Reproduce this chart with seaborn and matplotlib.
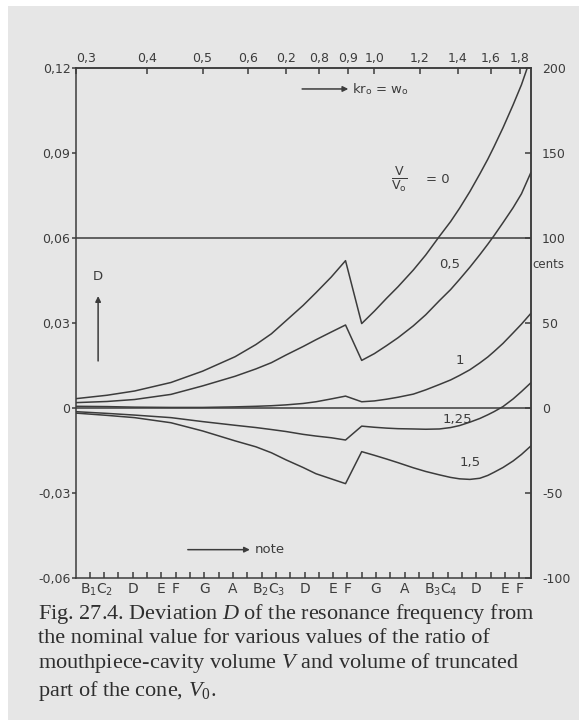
import numpy as np
import pandas as pd
import seaborn as sns
import matplotlib.pyplot as plt
from matplotlib.patches import Rectangle
from matplotlib.ticker import FixedLocator, NullFormatter, NullLocator

# values (kr0 on the top axis, D on the left axis)
kr = [0.30, 0.34, 0.38, 0.44, 0.50, 0.57, 0.62, 0.66, 0.70, 0.75, 0.79, 0.84, 0.89,
      0.95, 1.00, 1.05, 1.10, 1.17, 1.23, 1.30, 1.36, 1.41, 1.47, 1.53, 1.58, 1.62,
      1.68, 1.75, 1.81, 1.88]
d_0 = [0.0033, 0.0045, 0.0060, 0.0090, 0.0130, 0.0181, 0.0224, 0.0262, 0.0308, 0.0362,
       0.0407, 0.0462, 0.0520, 0.0298, 0.0342, 0.0387, 0.0428, 0.0487, 0.0540, 0.0606,
       0.0658, 0.0705, 0.0764, 0.0826, 0.0878, 0.0922, 0.0989, 0.1070, 0.1141, 0.1237]
d_05 = [0.0019, 0.0023, 0.0030, 0.0048, 0.0078, 0.0112, 0.0138, 0.0160, 0.0187, 0.0217,
        0.0241, 0.0268, 0.0293, 0.0168, 0.0192, 0.0220, 0.0248, 0.0290, 0.0329, 0.0379,
        0.0418, 0.0454, 0.0497, 0.0541, 0.0578, 0.0608, 0.0654, 0.0707, 0.0756, 0.0831]
d_1 = [0.0006, 0.0005, 0.0003, 0.0002, 0.0002, 0.0004, 0.0006, 0.0008, 0.0011, 0.0016,
       0.0022, 0.0032, 0.0042, 0.0022, 0.0025, 0.0031, 0.0038, 0.0049, 0.0064, 0.0083,
       0.0099, 0.0115, 0.0135, 0.0159, 0.0180, 0.0199, 0.0228, 0.0265, 0.0296, 0.0334]
d_125 = [-0.0013, -0.0019, -0.0025, -0.0034, -0.0048, -0.0061, -0.0069, -0.0076, -0.0083, -0.0093,
         -0.0099, -0.0105, -0.0113, -0.0064, -0.0068, -0.0071, -0.0073, -0.0074, -0.0075, -0.0074,
         -0.0069, -0.0062, -0.0050, -0.0037, -0.0024, -0.0013, 0.0005, 0.0032, 0.0058, 0.0089]
d_15 = [-0.0018, -0.0026, -0.0034, -0.0052, -0.0081, -0.0116, -0.0137, -0.0158, -0.0183, -0.0210,
        -0.0232, -0.0250, -0.0267, -0.0154, -0.0167, -0.0180, -0.0193, -0.0211, -0.0224, -0.0236,
        -0.0245, -0.0250, -0.0252, -0.0248, -0.0238, -0.0227, -0.0210, -0.0187, -0.0164, -0.0134]
ratios = ["0", "0,5", "1", "1,25", "1,5"]

# top axis
top_ticks = [0.3, 0.4, 0.5, 0.6, 0.7, 0.8, 0.9, 1.0, 1.2, 1.4, 1.6, 1.8]
top_labels = ["0,3", "0,4", "0,5", "0,6", "0,2", "0,8", "0,9", "1,0", "1,2", "1,4", "1,6", "1,8"]

# bottom axis: notes, in semitones from C2 (B/C pairs share one label)
kr_c2 = 0.336
note_steps = [-0.5, 2, 4, 5, 7, 9, 11.5, 14, 16, 17, 19, 21, 23.5, 26, 28, 29]
note_labels = [r"B$_\mathsf{1}$C$_\mathsf{2}$", "D", "E", "F", "G", "A",
               r"B$_\mathsf{2}$C$_\mathsf{3}$", "D", "E", "F", "G", "A",
               r"B$_\mathsf{3}$C$_\mathsf{4}$", "D", "E", "F"]

left_ticks = [-0.06, -0.03, 0, 0.03, 0.06, 0.09, 0.12]
left_labels = ["-0,06", "-0,03", "0", "0,03", "0,06", "0,09", "0,12"]
cents_ticks = [-100, -50, 0, 50, 100, 150, 200]

sns.set_theme(style="ticks")
plt.rcParams["font.family"] = ["DejaVu Sans"]
plt.rcParams["mathtext.fontset"] = "custom"
plt.rcParams["mathtext.rm"] = "Liberation Serif"
plt.rcParams["mathtext.it"] = "Liberation Serif:italic"
plt.rcParams["mathtext.sf"] = "DejaVu Sans"

ink = "#3c3c3c"
paper = "#e6e6e6"
lw = 1.1

df = pd.DataFrame({
    "kr": kr * len(ratios),
    "D": d_0 + d_05 + d_1 + d_125 + d_15,
    "ratio": np.repeat(ratios, len(kr)),
})

fig = plt.figure(figsize=(5.79, 7.2), dpi=100, facecolor="white")
fig.add_artist(Rectangle((8 / 579, 0), 1, 1 - 6 / 720, transform=fig.transFigure,
                         facecolor=paper, edgecolor="none", zorder=-10))
ax = fig.add_axes([76 / 579, 1 - 578 / 720, 455 / 579, 510 / 720])
ax.set_facecolor(paper)

sns.lineplot(data=df, x="kr", y="D", units="ratio", estimator=None, sort=False,
             color=ink, lw=lw, legend=False, ax=ax)
ax.axhline(0.06, color=ink, lw=lw)
ax.axhline(0, color=ink, lw=lw)

ax.set_xscale("log")
ax.set_xlim(0.3, 1.881)
ax.set_ylim(-0.06, 0.12)
ax.set_xlabel("")
ax.set_ylabel("")

# bottom: note names, a tick for every semitone
note_pos = [kr_c2 * 2 ** (s / 12) for s in note_steps]
semis = [kr_c2 * 2 ** (s / 12) for s in range(-1, 30)]
ax.xaxis.remove_overlapping_locs = False
ax.xaxis.set_major_locator(FixedLocator(note_pos))
ax.set_xticklabels(note_labels)
ax.xaxis.set_minor_locator(FixedLocator(semis))
ax.xaxis.set_minor_formatter(NullFormatter())
ax.tick_params(axis="x", which="major", length=0, labelsize=10, labelcolor=ink, pad=3)
ax.tick_params(axis="x", which="minor", direction="in", length=4, width=lw, color=ink)

ax.set_yticks(left_ticks, labels=left_labels)
ax.tick_params(axis="y", direction="out", length=3, width=lw, color=ink,
               labelsize=9, labelcolor=ink, pad=1)
for s in ax.spines.values():
    s.set_color(ink)
    s.set_linewidth(lw)

# top: kr0
top = ax.secondary_xaxis("top")
top.set_xticks(top_ticks, labels=top_labels)
top.xaxis.set_minor_locator(NullLocator())
top.tick_params(direction="in", length=4, width=lw, color=ink, labelsize=9,
                labelcolor=ink, pad=2)
top.spines["top"].set_color(ink)
top.spines["top"].set_linewidth(lw)
top.get_xticklabels()[0].set_horizontalalignment("left")

# right: cents
right = ax.secondary_yaxis("right", functions=(lambda d: d * 5000 / 3, lambda c: c * 3 / 5000))
right.set_yticks(cents_ticks, labels=[str(c) for c in cents_ticks])
right.tick_params(direction="in", length=4, width=lw, color=ink, labelsize=9,
                  labelcolor=ink, pad=8)
right.spines["right"].set_color(ink)
right.spines["right"].set_linewidth(lw)
ax.text(1.004, 0.614, "cents", transform=ax.transAxes, ha="left", va="center",
        fontsize=8.5, color=ink)

# curve labels
fs = 9.5
ax.text(1.105, 0.0808, r"$\frac{\mathsf{V}}{\mathsf{V}_\mathsf{o}}$", ha="center", va="center",
        fontsize=13, color=ink)
ax.text(1.29, 0.0808, "= 0", ha="center", va="center", fontsize=fs, color=ink)
ax.text(1.357, 0.0508, "0,5", ha="center", va="center", fontsize=fs, color=ink)
ax.text(1.413, 0.0166, "1", ha="center", va="center", fontsize=fs, color=ink)
ax.text(1.40, -0.0039, "1,25", ha="center", va="center", fontsize=fs, color=ink)
ax.text(1.47, -0.0194, "1,5", ha="center", va="center", fontsize=fs, color=ink)

arrow = dict(arrowstyle="-|>", color=ink, lw=lw, mutation_scale=8, shrinkA=0, shrinkB=0)
ax.annotate("", xy=(0.328, 0.0395), xytext=(0.328, 0.0166), arrowprops=arrow)
ax.text(0.328, 0.0465, "D", ha="center", va="center", fontsize=fs, color=ink)
ax.annotate("", xy=(0.90, 0.1126), xytext=(0.747, 0.1126), arrowprops=arrow)
ax.text(0.914, 0.1126, r"kr$_\mathsf{o}$ = w$_\mathsf{o}$", ha="left", va="center",
        fontsize=fs, color=ink)
ax.annotate("", xy=(0.605, -0.050), xytext=(0.471, -0.050), arrowprops=arrow)
ax.text(0.617, -0.050, "note", ha="left", va="center", fontsize=fs, color=ink)

# caption
caption = "\n".join([
    "Fig. 27.4. Deviation $D$ of the resonance frequency from",
    "the nominal value for various values of the ratio of",
    "mouthpiece-cavity volume $V$ and volume of truncated",
    "part of the cone, $V_0$.",
])
fig.text(38 / 579, 1 - 602 / 720, caption, family="Liberation Serif", fontsize=16,
         color="#2e2e2e", ha="left", va="top", linespacing=1.2)

fig.savefig("out.png", dpi=100, facecolor=fig.get_facecolor())
